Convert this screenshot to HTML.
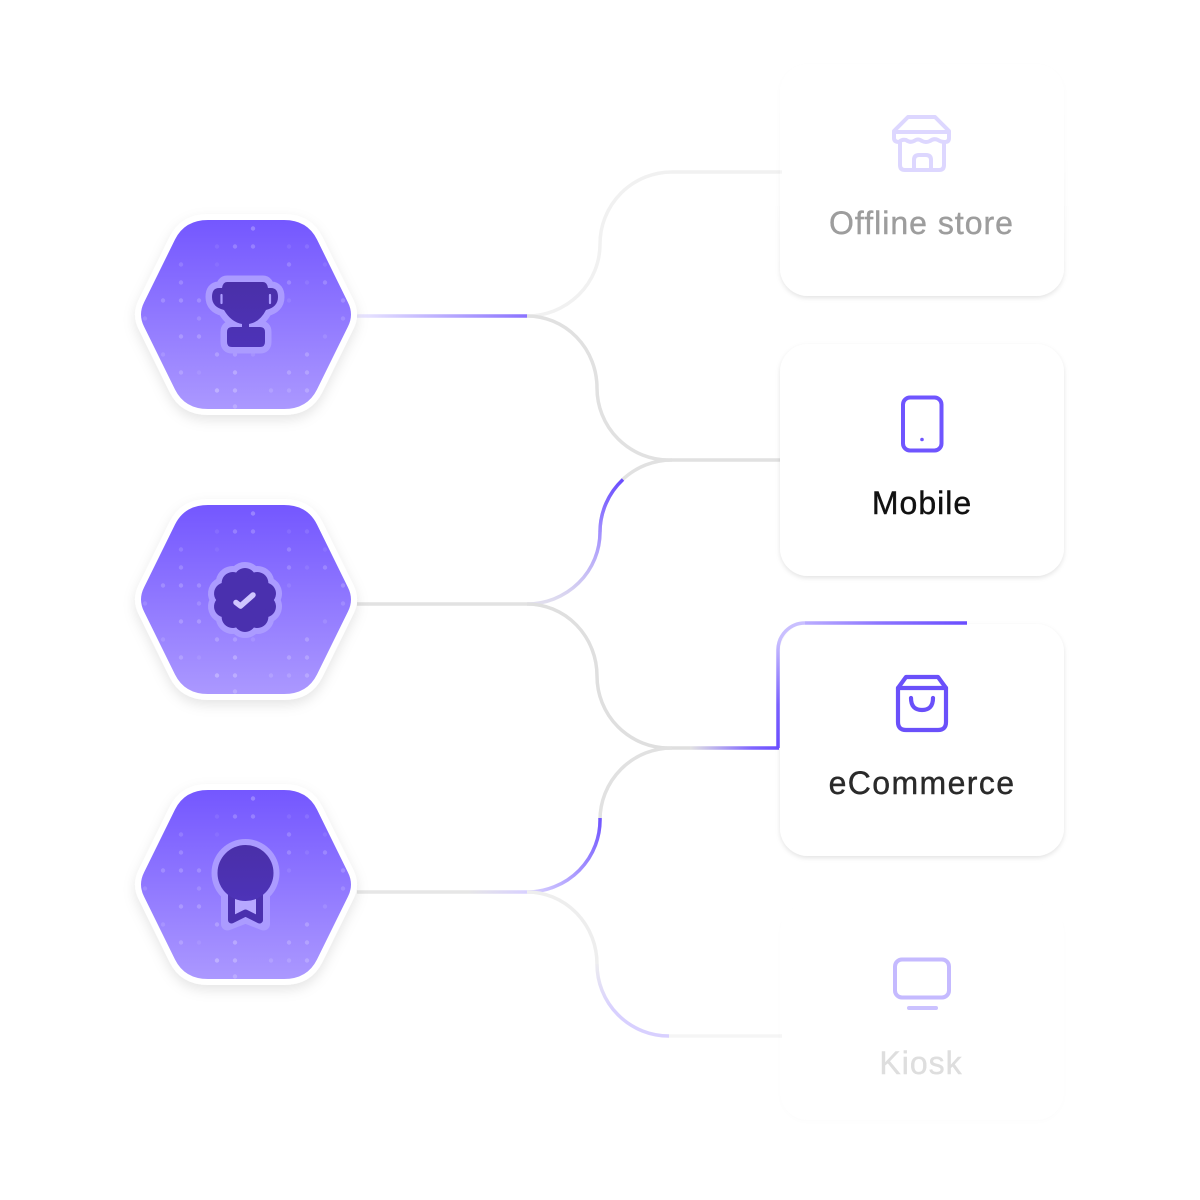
<!DOCTYPE html>
<html><head><meta charset="utf-8">
<style>
html,body{margin:0;padding:0;background:#fff;width:1200px;height:1200px;overflow:hidden}
svg{position:absolute;left:0;top:0}
text{font-family:"Liberation Sans",sans-serif;text-anchor:middle;font-size:32px;letter-spacing:1px;stroke-width:.4px}
</style></head><body>
<svg width="1200" height="1200" viewBox="0 0 1200 1200" xmlns="http://www.w3.org/2000/svg">
<defs>
<linearGradient id="hg" x1="0" y1="0" x2="0" y2="1"><stop offset="0" stop-color="#7457ff"/><stop offset="1" stop-color="#ab98ff"/></linearGradient>
<linearGradient id="dk" x1="0" y1="0" x2="0" y2="1"><stop offset="0" stop-color="#4a2fa8"/><stop offset="1" stop-color="#4d33b8"/></linearGradient>
<linearGradient id="l1" gradientUnits="userSpaceOnUse" x1="357" y1="0" x2="527" y2="0"><stop offset="0" stop-color="#ebe8ff"/><stop offset="1" stop-color="#8a72ff"/></linearGradient>
<linearGradient id="l3" gradientUnits="userSpaceOnUse" x1="357" y1="0" x2="527" y2="0"><stop offset="0" stop-color="#e6e6e6"/><stop offset=".65" stop-color="#e6e6e6"/><stop offset="1" stop-color="#d8d0ff"/></linearGradient>
<linearGradient id="u2" gradientUnits="userSpaceOnUse" x1="0" y1="604" x2="0" y2="480"><stop offset="0" stop-color="#e2e0ee"/><stop offset=".6" stop-color="#9f8cff"/><stop offset="1" stop-color="#6a4dff"/></linearGradient>
<linearGradient id="u3" gradientUnits="userSpaceOnUse" x1="530" y1="892" x2="600" y2="820"><stop offset="0" stop-color="#d8d0ff"/><stop offset="1" stop-color="#7257ff"/></linearGradient>
<linearGradient id="d3" gradientUnits="userSpaceOnUse" x1="0" y1="960" x2="0" y2="1010"><stop offset="0" stop-color="#eeeeee"/><stop offset="1" stop-color="#d8d0ff"/></linearGradient>
<linearGradient id="h2" gradientUnits="userSpaceOnUse" x1="690" y1="0" x2="779" y2="0"><stop offset="0" stop-color="#e2e2e2"/><stop offset=".7" stop-color="#7f65ff"/><stop offset="1" stop-color="#6a4dff"/></linearGradient>
<linearGradient id="v2" gradientUnits="userSpaceOnUse" x1="0" y1="748" x2="0" y2="640"><stop offset="0" stop-color="#6a4dff"/><stop offset=".4" stop-color="#7a60ff"/><stop offset="1" stop-color="#c9bfff"/></linearGradient>
<linearGradient id="t2" gradientUnits="userSpaceOnUse" x1="800" y1="0" x2="967" y2="0"><stop offset="0" stop-color="#bdb0ff"/><stop offset=".5" stop-color="#8a72ff"/><stop offset="1" stop-color="#6a4dff"/></linearGradient>
<linearGradient id="fadeTop" gradientUnits="userSpaceOnUse" x1="0" y1="50" x2="0" y2="296"><stop offset="0" stop-color="#fff" stop-opacity=".12"/><stop offset=".45" stop-color="#fff" stop-opacity=".25"/><stop offset="1" stop-color="#fff" stop-opacity="1"/></linearGradient>
<mask id="mTop" maskUnits="userSpaceOnUse" x="760" y="40" width="330" height="280"><rect x="760" y="40" width="330" height="280" fill="url(#fadeTop)"/></mask>
<filter id="hs" x="-20%" y="-20%" width="140%" height="140%"><feDropShadow dx="0" dy="5" stdDeviation="6" flood-color="#000" flood-opacity=".1"/></filter>
<filter id="cs" x="-10%" y="-10%" width="120%" height="120%"><feDropShadow dx="0" dy="2" stdDeviation="2.5" flood-color="#000" flood-opacity=".11"/></filter>
<path id="hexp" d="M-38,-94.500 H38 Q61.300,-94.500 71,-75 L102,-12 Q108,0 102,12 L71,75 Q61.300,94.500 38,94.500 H-38 Q-61.300,94.500 -71,75 L-102,12 Q-108,0 -102,-12 L-71,-75 Q-61.300,-94.500 -38,-94.500Z"/>
<g id="hex">
<use href="#hexp" filter="url(#hs)" fill="#fff" stroke="#fff" stroke-width="12" stroke-linejoin="round"/>
<use href="#hexp" fill="url(#hg)"/>
<g fill="#fff">
<circle cx="7" cy="-86" r="2.2" opacity=".25"/>
<circle cx="-29" cy="-68" r="2.2" opacity=".08"/><circle cx="-11" cy="-68" r="2.2" opacity=".2"/><circle cx="7" cy="-68" r="2.2" opacity=".2"/><circle cx="43" cy="-68" r="2.2" opacity=".08"/><circle cx="61" cy="-68" r="2.2" opacity=".1"/>
<circle cx="-65" cy="-50" r="2.2" opacity=".14"/><circle cx="-29" cy="-50" r="2.2" opacity=".06"/><circle cx="43" cy="-50" r="2.2" opacity=".18"/><circle cx="79" cy="-50" r="2.2" opacity=".08"/>
<circle cx="-65" cy="-32" r="2.2" opacity=".18"/><circle cx="43" cy="-32" r="2.2" opacity=".18"/><circle cx="61" cy="-32" r="2.2" opacity=".08"/><circle cx="79" cy="-32" r="2.2" opacity=".18"/>
<circle cx="-83" cy="-14" r="2.2" opacity=".18"/><circle cx="-65" cy="-14" r="2.2" opacity=".2"/><circle cx="-47" cy="-14" r="2.2" opacity=".18"/><circle cx="43" cy="-14" r="2.2" opacity=".08"/><circle cx="97" cy="-14" r="2.2" opacity=".18"/>
<circle cx="-101" cy="4" r="2.2" opacity=".12"/><circle cx="-47" cy="4" r="2.2" opacity=".14"/><circle cx="97" cy="4" r="2.2" opacity=".14"/>
<circle cx="-65" cy="22" r="2.2" opacity=".2"/><circle cx="-47" cy="22" r="2.2" opacity=".2"/><circle cx="79" cy="22" r="2.2" opacity=".1"/>
<circle cx="-83" cy="40" r="2.2" opacity=".12"/><circle cx="-29" cy="40" r="2.2" opacity=".2"/><circle cx="-11" cy="40" r="2.2" opacity=".18"/><circle cx="7" cy="40" r="2.2" opacity=".1"/><circle cx="61" cy="40" r="2.2" opacity=".2"/>
<circle cx="-65" cy="58" r="2.2" opacity=".18"/><circle cx="-47" cy="58" r="2.2" opacity=".08"/><circle cx="-11" cy="58" r="2.2" opacity=".25"/><circle cx="43" cy="58" r="2.2" opacity=".2"/><circle cx="61" cy="58" r="2.2" opacity=".2"/>
<circle cx="-29" cy="76" r="2.2" opacity=".28"/><circle cx="-11" cy="76" r="2.2" opacity=".25"/><circle cx="25" cy="76" r="2.2" opacity=".14"/><circle cx="43" cy="76" r="2.2" opacity=".14"/><circle cx="61" cy="76" r="2.2" opacity=".2"/>
<circle cx="-11" cy="92" r="2.2" opacity=".2"/>
</g>
</g>
<path id="cupshape" d="M-19,-33 H17 Q21,-33 22,-27 H25 Q32,-27 32,-18 Q32,-8 20,-5 Q14,7 3,9 V12 H14 Q19,12 19,17 V27 Q19,32 14,32 H-14 Q-19,32 -19,27 V17 Q-19,12 -14,12 H-4 V9 Q-15,7 -22,-5 Q-34,-8 -34,-18 Q-34,-27 -27,-27 H-24 Q-23,-33 -19,-33Z"/>
<g id="lobes">
<circle r="26"/>
<circle cy="-21" r="11"/><circle cy="-21" r="11" transform="rotate(36)"/><circle cy="-21" r="11" transform="rotate(72)"/><circle cy="-21" r="11" transform="rotate(108)"/><circle cy="-21" r="11" transform="rotate(144)"/><circle cy="-21" r="11" transform="rotate(180)"/><circle cy="-21" r="11" transform="rotate(216)"/><circle cy="-21" r="11" transform="rotate(252)"/><circle cy="-21" r="11" transform="rotate(288)"/><circle cy="-21" r="11" transform="rotate(324)"/>
</g>
</defs>

<!-- connectors -->
<g fill="none" stroke-width="3.500">
<path d="M527,316 A73,72 0 0 0 600,244 A72,72 0 0 1 672,172 H782" stroke="#f1f1f1"/>
<path d="M527,316 A70,72 0 0 1 597,388 A72,72 0 0 0 669,460 H782" stroke="#e1e1e1"/>
<path d="M357,316 H527" stroke="url(#l1)"/>
<path d="M357,604 H527" stroke="#e2e2e2"/>
<path d="M600,532 A72,72 0 0 1 672,460" stroke="#e1e1e1"/>
<path d="M527,604 A73,72 0 0 0 600,532 A72,72 0 0 1 623,479.5" stroke="url(#u2)"/>
<path d="M527,604 A70,72 0 0 1 597,676 A72,72 0 0 0 669,748 H690" stroke="#dfdfdf"/>
<path d="M690,748 H779" stroke="url(#h2)"/>
<path d="M600,820 A72,72 0 0 1 672,748" stroke="#e1e1e1"/>
<path d="M357,892 H527" stroke="url(#l3)"/>
<path d="M527,892 A73,72 0 0 0 600,818" stroke="url(#u3)"/>
<path d="M527,892 A70,72 0 0 1 597,964" stroke="#eeeeee"/>
<path d="M597,964 A72,72 0 0 0 669,1036" stroke="url(#d3)"/>
<path d="M669,1036 H782" stroke="#f5f5f5"/>
</g>

<!-- hexagons -->
<use href="#hex" transform="translate(246,314.500)"/>
<use href="#hex" transform="translate(246,599.500)"/>
<use href="#hex" transform="translate(246,884.500)"/>

<!-- trophy -->
<g transform="translate(246,315)">
<use href="#cupshape" fill="#ab9bff" stroke="#ab9bff" stroke-width="13" stroke-linejoin="round"/>
<use href="#cupshape" fill="url(#dk)"/>
<path d="M-24.500,-20 V-12 M24,-20 V-12" stroke="#ab9bff" stroke-width="2.200" stroke-linecap="round" fill="none"/>
</g>
<!-- badge -->
<g transform="translate(245,600)">
<use href="#lobes" fill="#ab9bff" stroke="#ab9bff" stroke-width="12"/>
<use href="#lobes" fill="#4a30ae"/>
<path d="M-9,2.500 L-4.500,6 L8,-5" fill="none" stroke="#d0c6ff" stroke-width="5.500" stroke-linecap="round" stroke-linejoin="round"/>
</g>
<!-- medal -->
<g transform="translate(245.500,873)">
<circle r="34" fill="#ab9bff"/>
<path d="M-18,15 V51 L0,44 L18,51 V15Z" fill="#ab9bff" stroke="#ab9bff" stroke-width="13" stroke-linejoin="round"/>
<path d="M-14,20 V47 L0,40 L14,47 V20" fill="#b7a8ff" stroke="#4a30ae" stroke-width="7" stroke-linejoin="round"/>
<circle r="28" fill="url(#dk)"/>
</g>

<!-- cards -->
<g mask="url(#mTop)"><rect x="780" y="64" width="284" height="232" rx="28" fill="#fff" filter="url(#cs)"/></g>
<g fill="#fff">
<rect x="780" y="344" width="284" height="232" rx="28" filter="url(#cs)"/>
<rect x="780" y="624" width="284" height="232" rx="28" filter="url(#cs)"/>
<rect x="780" y="904" width="284" height="216" rx="28" filter="url(#cs)" opacity=".12"/>
</g>

<!-- highlight around ecommerce card -->
<g fill="none" stroke-width="3.500">
<path d="M778,748 V650 A27,27 0 0 1 805,623" stroke="url(#v2)"/>
<path d="M805,623 H967" stroke="url(#t2)"/>
</g>

<!-- store icon -->
<g fill="none" stroke="#ddd7ff" stroke-width="4" stroke-linejoin="round" stroke-linecap="round">
<path d="M908,117 H935 L949,131 V138 Q949,142 945,142 Q941,142 938,140 Q934,138 930,141 Q926,143 922,141 Q918,138 914,141 Q910,143 906,140 Q902,139 899,142 Q894,142 894,138 V131 Z"/>
<path d="M895,132 H948"/>
<path d="M900,143 V165 Q900,170 905,170 H939 Q944,170 944,165 V143"/>
<path d="M914,169 V160 Q914,155 919,155 H926 Q931,155 931,160 V169"/>
</g>
<text x="921.500" y="234" fill="#9d9d9d" stroke="#9d9d9d">Offline store</text>

<!-- mobile -->
<rect x="903" y="397.500" width="38.500" height="53" rx="7" fill="none" stroke="#6f55ff" stroke-width="4"/>
<circle cx="922" cy="439.500" r="1.800" fill="#6f55ff"/>
<text x="922" y="514" fill="#111" stroke="#111">Mobile</text>

<!-- bag -->
<g fill="none" stroke="#6a50fa" stroke-width="4.200" stroke-linejoin="round" stroke-linecap="round">
<path d="M906,677 H938 L946,688 V722 Q946,730 938,730 H906 Q898,730 898,722 V688 Z"/>
<path d="M898,688 H946"/>
<path d="M911,698 Q911,710 922,710 Q933,710 933,698"/>
</g>
<text x="922" y="794" fill="#2a2a2a" stroke="#2a2a2a" style="letter-spacing:1.400px">eCommerce</text>

<!-- monitor -->
<rect x="895" y="959.500" width="54" height="38" rx="7" fill="none" stroke="#c5baff" stroke-width="4"/>
<path d="M909,1008 H936" stroke="#cbc2ff" stroke-width="4" stroke-linecap="round"/>
<text x="921" y="1074" fill="#dedede" stroke="#dedede">Kiosk</text>
</svg>
</body></html>
